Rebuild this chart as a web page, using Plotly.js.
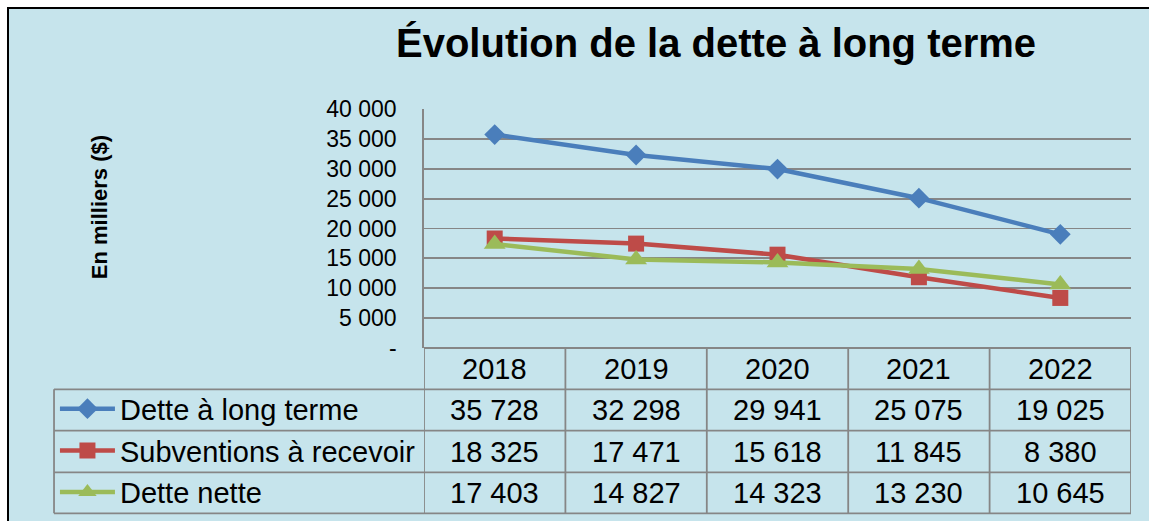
<!DOCTYPE html>
<html>
<head>
<meta charset="utf-8">
<script src="https://cdn.plot.ly/plotly-3.0.1.min.js"></script>
<style>
html,body{margin:0;padding:0;background:#ffffff;}
#chart{width:1149px;height:521px;}
</style>
</head>
<body>
<div id="chart"></div>
<script>
// ---- data ----
const years = ['2018', '2019', '2020', '2021', '2022'];
const seriesNames = ['Dette à long terme', 'Subventions à recevoir', 'Dette nette'];
const detteLongTerme = [35728, 32298, 29941, 25075, 19025];
const subventions = [18325, 17471, 15618, 11845, 8380];
const detteNette = [17403, 14827, 14323, 13230, 10645];
const yTickVals = [0, 5000, 10000, 15000, 20000, 25000, 30000, 35000, 40000];
const yTickText = ['-', '5 000', '10 000', '15 000', '20 000', '25 000', '30 000', '35 000', '40 000'];
const titleText = 'Évolution de la dette à long terme';
const yTitleText = 'En milliers ($)';

// ---- styles ----
const FONT = 'Liberation Sans, Arial, sans-serif';
const BG = '#c6e4ec';
const GRID = '#868686';
const colors = ['#4a7ebb', '#be4b48', '#9bbb59'];
const symbols = ['diamond', 'square', 'triangle-up'];
const msizes = [16, 16, 19];
const seriesValues = [detteLongTerme, subventions, detteNette];

const fmt = v => String(v).replace(/\B(?=(\d{3})+(?!\d))/g, ' ');

const traces = seriesValues.map((vals, k) => ({
  type: 'scatter',
  mode: 'lines+markers',
  x: years,
  y: vals,
  name: seriesNames[k],
  legendgroup: 'g' + k,
  line: {color: colors[k], width: 4.5},
  marker: {symbol: symbols[k], size: msizes[k], color: colors[k]},
  hoverinfo: 'skip'
}));

// table geometry (paper coords, relative to plot area)
const headerY = -0.0866;
const rowY = [-0.2594, -0.4331, -0.6059];
const hLines = [-0.1728, -0.346, -0.520, -0.6916];
const tableLeft = -0.5233;

const shapes = [];
// frame / background
shapes.push({type: 'rect', xref: 'paper', yref: 'paper', x0: -0.5884, x1: 1.05, y0: -0.75, y1: 1.4226,
  fillcolor: BG, line: {color: '#000000', width: 2}, layer: 'below'});
// vertical dividers along category boundaries
for (let i = 0; i <= years.length; i++) {
  shapes.push({type: 'line', xref: 'x', yref: 'paper', x0: i - 0.5, x1: i - 0.5, y0: 0, y1: hLines[3],
    line: {color: GRID, width: 1.8}});
}
// horizontal lines
shapes.push({type: 'line', xref: 'paper', yref: 'paper', x0: 0, x1: 1, y0: 0, y1: 0, line: {color: GRID, width: 1.8}});
hLines.forEach(y => shapes.push({type: 'line', xref: 'paper', yref: 'paper', x0: tableLeft, x1: 1, y0: y, y1: y,
  line: {color: GRID, width: 1.8}}));
// left border of legend column
shapes.push({type: 'line', xref: 'paper', yref: 'paper', x0: tableLeft, x1: tableLeft, y0: hLines[0], y1: hLines[3],
  line: {color: GRID, width: 1.8}});

const annotations = [];
// y-axis title, placed like the original (above the axis centre)
annotations.push({xref: 'paper', yref: 'paper', x: -0.458, y: 0.59, text: '<b>' + yTitleText + '</b>',
  textangle: -90, showarrow: false, xanchor: 'center', yanchor: 'middle',
  font: {family: FONT, size: 22, color: '#000'}});
years.forEach((y, i) => annotations.push({xref: 'x', yref: 'paper', x: i, y: headerY, text: y, showarrow: false,
  xanchor: 'center', yanchor: 'middle', font: {family: FONT, size: 29, color: '#000'}}));
seriesValues.forEach((vals, r) => {
  vals.forEach((v, i) => annotations.push({xref: 'x', yref: 'paper', x: i, y: rowY[r], text: fmt(v),
    showarrow: false, xanchor: 'center', yanchor: 'middle', font: {family: FONT, size: 29, color: '#000'}}));
});

const layout = {
  width: 1149, height: 521,
  margin: {l: 424, r: 18, t: 109, b: 173, pad: 0, autoexpand: false},
  paper_bgcolor: '#ffffff',
  plot_bgcolor: 'rgba(0,0,0,0)',
  font: {family: FONT, color: '#000'},
  title: {text: '<b>' + titleText + '</b>', xref: 'container', x: 0.6232, xanchor: 'center',
    yref: 'container', y: 0.917, yanchor: 'middle', font: {family: FONT, size: 40, color: '#000'}},
  showlegend: true,
  legend: {x: -0.522, xanchor: 'left', y: -0.148, yanchor: 'top', bgcolor: 'rgba(0,0,0,0)', borderwidth: 0,
    font: {family: FONT, size: 29, color: '#000'}, tracegroupgap: 1, itemwidth: 55, itemclick: false, itemdoubleclick: false},
  xaxis: {type: 'category', range: [-0.5, 4.5], showticklabels: false, ticks: '', showgrid: false, zeroline: false,
    showline: false, fixedrange: true},
  yaxis: {range: [0, 40000], tickvals: yTickVals, ticktext: yTickText, ticks: '', showgrid: true, gridcolor: GRID,
    gridwidth: 1.8, zeroline: false, showline: true, linecolor: GRID, linewidth: 1.8, ticklabelstandoff: 21,
    tickfont: {family: FONT, size: 23, color: '#000'}, fixedrange: true},
  shapes: shapes,
  annotations: annotations,
  hovermode: false
};

Plotly.newPlot('chart', traces, layout, {displayModeBar: false, staticPlot: true});
</script>
</body>
</html>
